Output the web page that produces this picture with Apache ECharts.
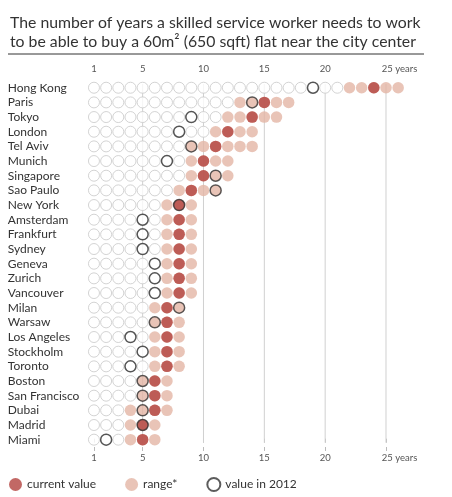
<!DOCTYPE html>
<html><head><meta charset="utf-8">
<script src="https://cdn.jsdelivr.net/npm/echarts@6/dist/echarts.min.js"></script>
<style>html,body{margin:0;padding:0;background:#fff}#c{width:452px;height:497px}</style>
</head><body><div id="c"></div>
<script>
const cities = ['Hong Kong','Paris','Tokyo','London','Tel Aviv','Munich','Singapore','Sao Paulo','New York','Amsterdam','Frankfurt','Sydney','Geneva','Zurich','Vancouver','Milan','Warsaw','Los Angeles','Stockholm','Toronto','Boston','San Francisco','Dubai','Madrid','Miami'];
const currentValue = [24,15,14,12,11,10,10,9,8,8,8,8,8,8,8,7,7,7,7,7,6,6,6,5,5];
const rangeLow  = [22,13,12,11,9,9,9,8,7,7,7,7,7,7,7,6,6,6,6,6,5,5,4,4,4];
const rangeHigh = [26,17,16,14,14,12,12,11,9,9,9,9,9,9,9,8,8,8,8,8,7,7,7,6,6];
const value2012 = [19,14,9,8,9,7,11,11,8,5,5,5,6,6,6,8,6,4,5,4,5,5,5,5,2];
const tickValues = [1,5,10,15,20,25];
const gridValues = [5,10,15,20,25];

const FONT = 'Lato';

const hollowData = [], rangeData = [];
cities.forEach((c,i)=>{
  for(let v=1; v<rangeLow[i]; v++) hollowData.push([v,c]);
  for(let v=rangeLow[i]; v<=rangeHigh[i]; v++) rangeData.push([v,c]);
});
const curData = cities.map((c,i)=>[currentValue[i],c]);
const old2012 = cities.map((c,i)=>[value2012[i],c]);

const labelFmt = v => v===25 ? '{pad|}{t|25 years}' : '{t|'+v+'}';
const axisLabelCommon = {
  customValues: tickValues, formatter: labelFmt, color:'#555', fontFamily:FONT, fontSize:9.5,
  rich:{ t:{fontSize:9.5,color:'#555',fontFamily:FONT}, pad:{width:27} }
};
const gridSeries = gridValues.map(v => ({
  type:'line', name:'grid'+v, xAxisIndex:0, yAxisIndex:1, data:[[v,0],[v,1]],
  symbol:'none', silent:true, z:1, clip:false,
  lineStyle:{color:'#d0d0d0', width:1}
}));

const chart = echarts.init(document.getElementById('c'), null, {renderer:'canvas'});
chart.setOption({
  animation:false,
  textStyle:{fontFamily:FONT},
  title:{ text:'The number of years a skilled service worker needs to work\nto be able to buy a 60m² (650 sqft) flat near the city center',
    left:5, top:8, textStyle:{fontFamily:FONT, fontSize:15.8, fontWeight:'normal', color:'#333', lineHeight:19.5} },
  graphic:[{type:'line', shape:{x1:8,y1:54,x2:424,y2:54}, style:{stroke:'#333', lineWidth:1}}],
  grid:{ left:81.8, right:29.5, top:80.4, bottom:50 },
  xAxis:[
    { type:'value', min:0, max:28, position:'top', axisLine:{show:false}, splitLine:{show:false},
      axisTick:{show:true, customValues:tickValues, length:4, lineStyle:{color:'#bbb'}},
      axisLabel:Object.assign({margin:6}, axisLabelCommon) },
    { type:'value', min:0, max:28, position:'bottom', axisLine:{show:false}, splitLine:{show:false},
      axisTick:{show:true, customValues:tickValues, length:4, lineStyle:{color:'#bbb'}},
      axisLabel:Object.assign({margin:6}, axisLabelCommon) }
  ],
  yAxis:[
    { type:'category', data:cities, inverse:true, axisLine:{show:false}, axisTick:{show:false},
      axisLabel:{ interval:0, align:'left', margin:74, color:'#333', fontFamily:FONT, fontSize:12 } },
    { type:'value', min:-0.012, max:1.01, show:false, splitLine:{show:false} }
  ],
  legend:{ left:9, top:477, padding:0, itemWidth:13, itemHeight:13, itemGap:29, icon:'circle',
    textStyle:{fontFamily:FONT, fontSize:12, color:'#333'},
    data:['current value','range*','value in 2012'] },
  series: gridSeries.concat([
    { type:'scatter', name:'hollow', data:hollowData, symbolSize:11, z:2,
      itemStyle:{color:'#fff', borderColor:'#c8c8c8', borderWidth:1} },
    { type:'scatter', name:'range*', data:rangeData, symbolSize:11.5, z:3,
      itemStyle:{color:'#e4b5a5'} },
    { type:'scatter', name:'current value', data:curData, symbolSize:11.5, z:4,
      itemStyle:{color:'#b3423e'} },
    { type:'scatter', name:'value in 2012', data:old2012, symbolSize:11, z:5,
      itemStyle:{color:'rgba(0,0,0,0)', borderColor:'#333', borderWidth:1.5} }
  ])
});
</script></body></html>
